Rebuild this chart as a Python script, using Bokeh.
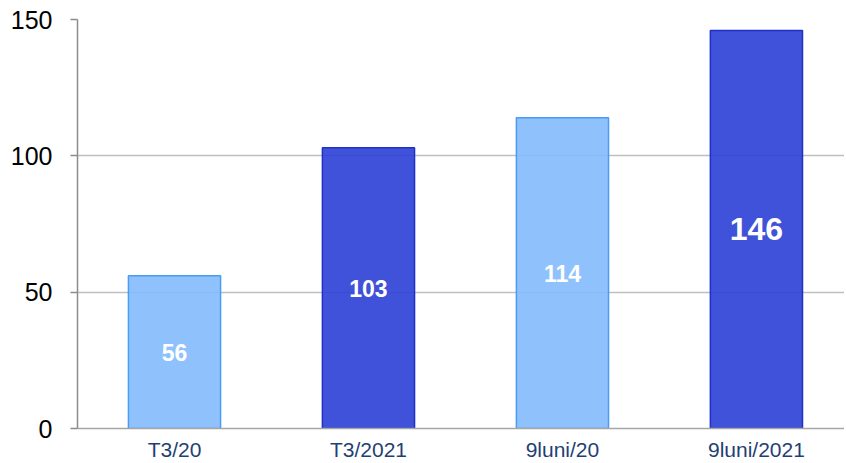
from bokeh.plotting import figure
from bokeh.models import ColumnDataSource, Range1d, FixedTicker, LabelSet
from bokeh.embed import file_html
from bokeh.resources import INLINE
from bokeh.core.properties import value

categories = ["T3/20", "T3/2021", "9luni/20", "9luni/2021"]
values = [56, 103, 114, 146]
fills = ["#83BBFD", "#2A3FD5", "#83BBFD", "#2A3FD5"]
outlines = ["#4A9BF5", "#1E30C8", "#4A9BF5", "#1E30C8"]
label_sizes = ["23px", "23px", "23px", "32px"]
y_ticks = [0, 50, 100, 150]

xs = list(range(len(categories)))
src = ColumnDataSource(dict(
    x=xs, top=values, fill=fills, line=outlines,
    mid=[v / 2 for v in values], txt=[str(v) for v in values], size=label_sizes,
))

p = figure(width=844, height=463, output_backend="svg", toolbar_location=None,
           x_range=Range1d(-0.5, 3.454), y_range=Range1d(0, 150),
           min_border_left=77, min_border_right=0, min_border_top=19, min_border_bottom=0)
p.outline_line_color = None
p.background_fill_color = "white"

p.vbar(x="x", top="top", bottom=0, width=0.475, source=src,
       fill_color="fill", fill_alpha=0.9, line_color="line", line_width=1.5)

labels = LabelSet(x="x", y="mid", text="txt", source=src, text_color="white",
                  text_font=value("Liberation Sans"), text_font_style="bold",
                  text_font_size="size", text_align="center", text_baseline="middle")
p.add_layout(labels)

p.xaxis.ticker = FixedTicker(ticks=xs)
p.xaxis.major_label_overrides = {i: c for i, c in enumerate(categories)}
p.xaxis.major_tick_line_color = None
p.xaxis.major_tick_in = 0
p.xaxis.major_tick_out = 0
p.xaxis.minor_tick_line_color = None
p.xaxis.axis_line_color = "#A6A6A6"
p.xaxis.axis_line_width = 1.5
p.xaxis.major_label_text_font = "Liberation Sans"
p.xaxis.major_label_text_font_size = "21px"
p.xaxis.major_label_text_color = "#1F3F75"
p.xaxis.major_label_standoff = 9

p.yaxis.ticker = FixedTicker(ticks=y_ticks)
p.yaxis.minor_tick_line_color = None
p.yaxis.axis_line_color = "#8C8C8C"
p.yaxis.axis_line_width = 1.5
p.yaxis.major_tick_line_color = "#8C8C8C"
p.yaxis.major_tick_line_width = 1.5
p.yaxis.major_tick_in = 0
p.yaxis.major_tick_out = 7
p.yaxis.major_label_text_font = "Liberation Sans"
p.yaxis.major_label_text_font_size = "25px"
p.yaxis.major_label_text_color = "black"
p.yaxis.major_label_standoff = 18

p.xgrid.grid_line_color = None
p.ygrid.ticker = FixedTicker(ticks=y_ticks)
p.ygrid.grid_line_color = "#BFBFBF"
p.ygrid.grid_line_width = 1.5

open("out.html", "w").write(file_html(p, INLINE))
